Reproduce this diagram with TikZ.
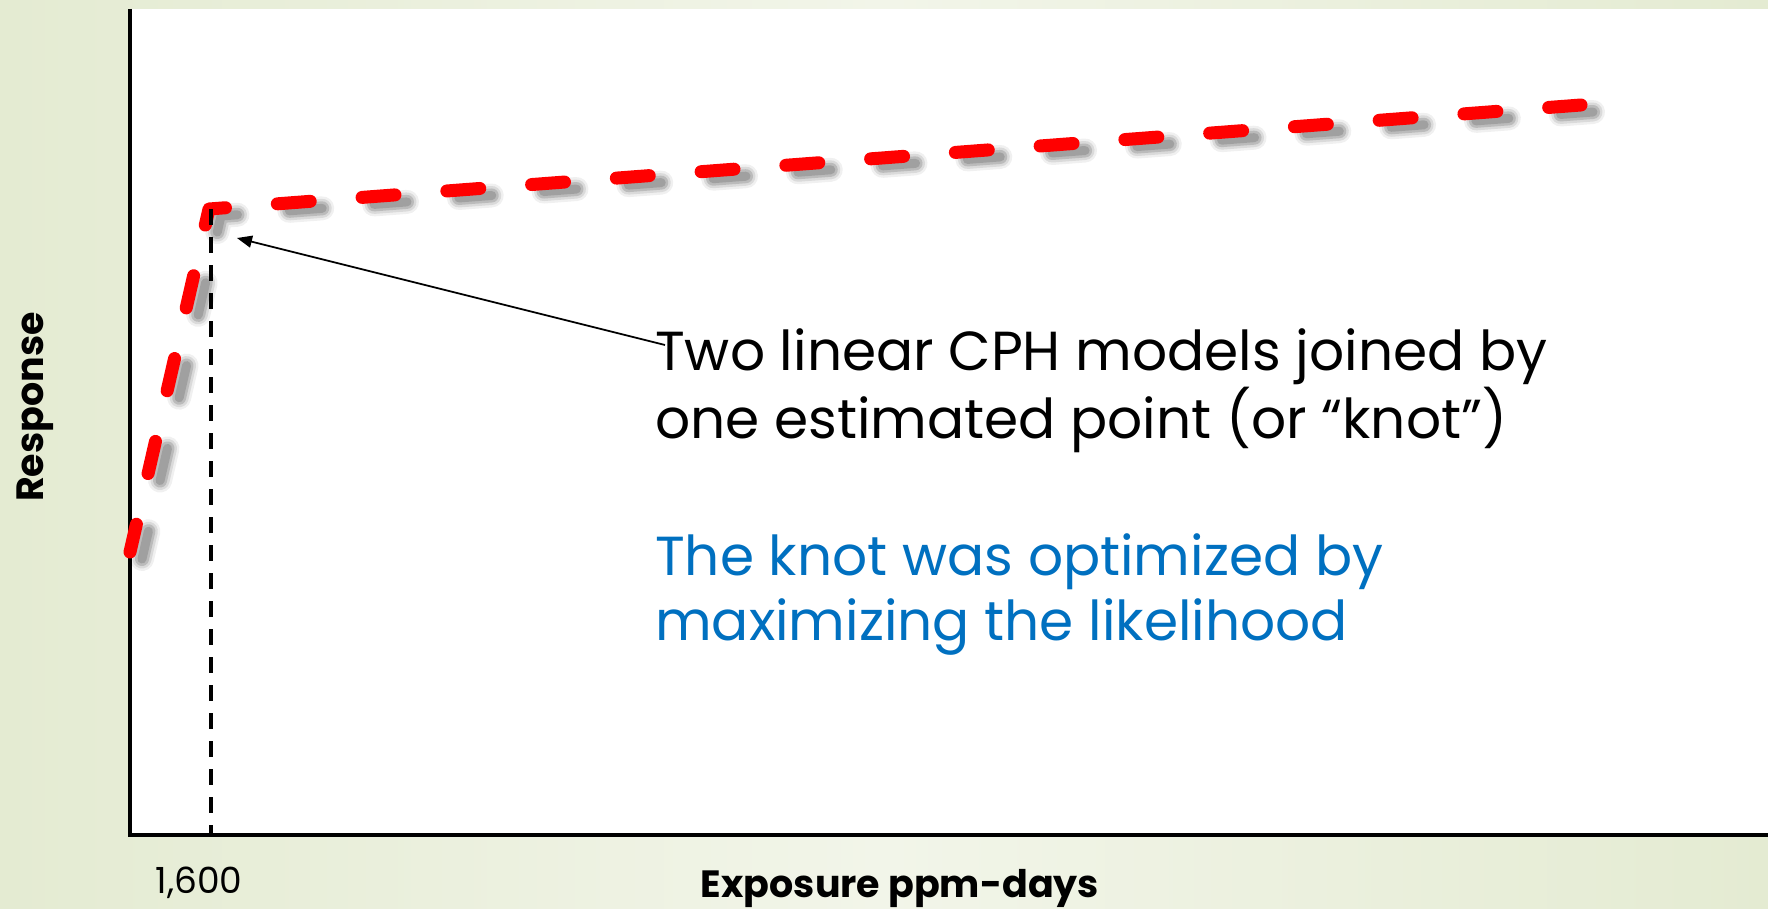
\documentclass[tikz,border=0pt]{standalone}
\usepackage{fontspec}
\setmainfont{Poppins}
\usetikzlibrary{arrows.meta}
\definecolor{bgA}{RGB}{228,235,210}
\definecolor{bgB}{RGB}{242,245,233}
\definecolor{noteblue}{RGB}{0,112,192}
\tikzset{
  knotline/.style={red, line width=13pt, line cap=round, line join=round,
    dash pattern=on 33pt off 52pt, dash phase=4.5pt},
  knotshadow/.style={black, line cap=round, line join=round,
    dash pattern=on 33pt off 52pt, dash phase=4.5pt},
  knotmark/.style={black, line width=3.5pt, dash pattern=on 16pt off 12pt},
  axisline/.style={black, line width=3.5pt},
  pointer/.style={black, line width=1.8pt, -{Triangle[length=15pt,width=12pt]}},
  notetext/.style={anchor=base west, inner sep=0pt, font=\fontsize{55}{66}\selectfont},
  axislabel/.style={inner sep=0pt, font=\fontsize{38}{44}\selectfont\bfseries},
  ticklabel/.style={inner sep=0pt, font=\fontsize{36}{42}\selectfont}
}
\begin{document}
\begin{tikzpicture}[x=1pt,y=-1pt]
\useasboundingbox (0,0) rectangle (1768,909);
\shade[left color=bgA, right color=bgA, middle color=bgB] (0,0) rectangle (1768,909);
\fill[white] (130,9) rectangle (1768,835);
% axes
\coordinate (ytop) at (130,9);
\coordinate (origin) at (130,835);
\coordinate (xend) at (1768,835);
\draw[axisline] (ytop) -- (origin) -- (xend);
% piecewise model
\coordinate (start) at (130,552);
\coordinate (knot) at (209,209);
\coordinate (finish) at (1581,105);
\begin{scope}[transform canvas={shift={(12,7)}}]
  \draw[knotshadow, line width=24pt, opacity=0.06] (start) -- (knot) -- (finish);
  \draw[knotshadow, line width=19pt, opacity=0.09] (start) -- (knot) -- (finish);
  \draw[knotshadow, line width=14pt, opacity=0.14] (start) -- (knot) -- (finish);
  \draw[knotshadow, line width=9pt, opacity=0.14] (start) -- (knot) -- (finish);
\end{scope}
\draw[knotline] (start) -- (knot) -- (finish);
% knot marker
\coordinate (knottop) at (211,209);
\coordinate (knotfoot) at (211,835);
\draw[knotmark] (knottop) -- (knotfoot);
% annotation
\node[notetext] (l1) at (655,370) {Two linear CPH models joined by};
\node[notetext] (l2) at (655,438) {one estimated point (or “knot”)};
\node[notetext, text=noteblue] (l3) at (655,575) {The knot was optimized by};
\node[notetext, text=noteblue] (l4) at (655,640) {maximizing the likelihood};
\coordinate (arrowstart) at (665,345);
\coordinate (arrowtip) at (237,238);
\draw[pointer] (arrowstart) -- (arrowtip);
% labels
\node[axislabel, rotate=90, anchor=base] (ylab) at (43,407) {Response};
\node[axislabel, anchor=base] (xlab) at (900,897) {Exposure ppm-days};
\node[ticklabel, anchor=base] (tick) at (199,893) {1,600};
\end{tikzpicture}
\end{document}
